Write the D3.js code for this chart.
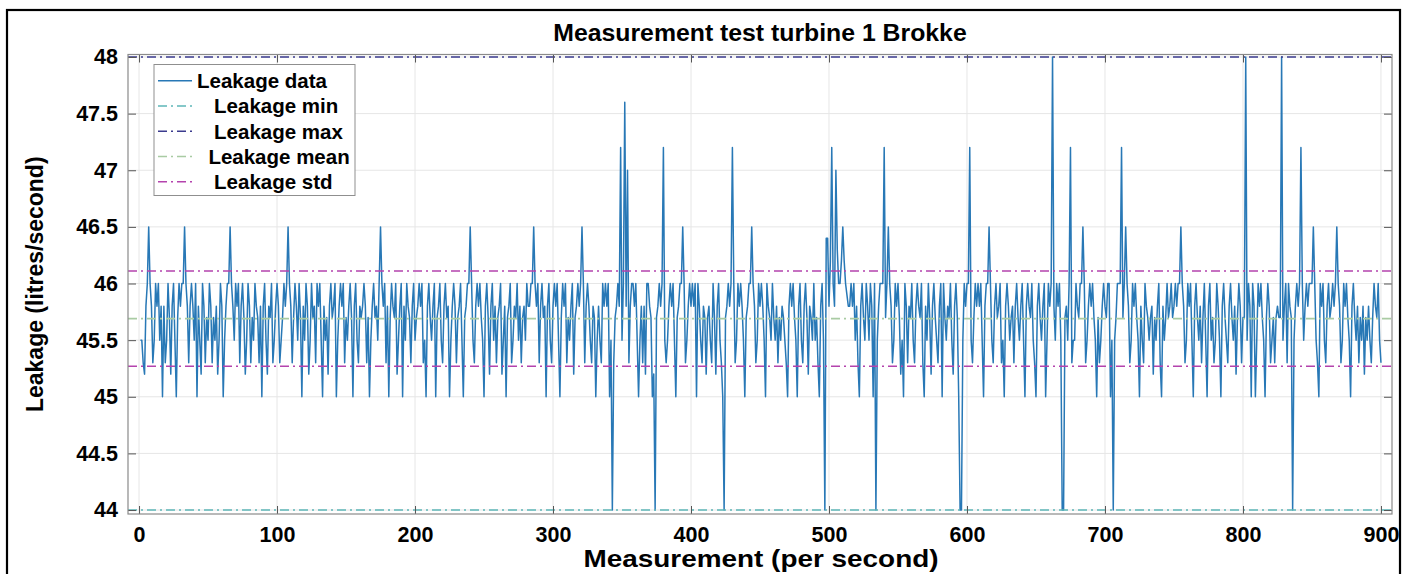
<!DOCTYPE html>
<html>
<head>
<meta charset="utf-8">
<script src="https://cdn.jsdelivr.net/npm/d3@7"></script>
<style>
  html, body { margin: 0; padding: 0; background: #fff; }
  svg text { font-family: "Liberation Sans", Arial, Helvetica, sans-serif; font-weight: bold; fill: #000; }
</style>
</head>
<body>
<svg id="chart" width="1402" height="574"></svg>
<script>
// Leakage readings, one per second (measurement 1..900)
const leakage = [
  45.5,45.5,45.3,45.2,45.8,46,46.5,46,45.8,45.3,45.5,46,45.8,46,45.5,45.8,45,45.8,45.3,45.5,46,45.7,45.2,45.8,46,
  45.5,45,45.7,46,45.8,46,46,46.5,46,45.8,45.3,45.8,46,45.8,45.5,46,45,45.8,45.5,45.2,46,45.8,45.3,45.7,45.5,
  46,45.8,45.3,45.7,45.5,45.8,45.2,45.5,46,45.8,45,45.5,45.8,46,46,46.5,46,45.8,45.5,46,45.8,46,45.3,45.8,46,
  45.7,45.2,45.5,46,45.8,45.3,45.7,45.5,46,45.8,45.7,45.3,45.8,45,45.8,46,45.5,45.2,45.8,45.7,46,45.3,45.5,45.8,46,
  45.8,45.3,45.5,45.7,46,45.8,46,46.5,46,45.8,45.3,45.7,46,45.8,45.5,46,45.7,45,45.8,45.5,46,45.8,45.2,45.5,46,
  45.7,45.8,45.3,46,45.8,46,45.5,45,45.8,45.5,45.7,45.2,45.8,46,45.7,45.8,46,45,45.5,45.8,46,45.8,46,45.3,45.7,
  45.5,45.8,46,45.7,45,45.8,46,45.5,45.3,45.8,45.7,45.8,46,45.8,45.3,45.7,45,45.5,45.8,46,45.7,45.8,45.5,46,46.5,
  46,45.8,46,45.3,45.8,45,45.7,46,45.8,45.7,46,45.2,45.5,45.8,46,45,45.8,45.5,46,45.8,45.7,45.3,45.8,46,45.5,
  45.7,45.8,46,45.8,46,45.3,45.5,45,45.8,46,45.7,45.5,45.8,46,45,45.7,45.8,46,45.5,45.3,45.8,46,45.7,45.8,45,
  45.5,45.8,46,45.8,45.3,45.7,45.8,46,45.5,45,45.7,45.8,46,46,46.5,46,45.5,45.3,45.8,46,45.8,46,45.7,45.5,45,
  45.8,46,45.7,45.2,45.8,46,45.5,45.8,45.3,45.7,45.8,46,45.2,45.5,45.8,45,45.7,45.8,46,45.3,45.5,45.8,45.7,46,45.5,
  45.8,45.3,45.7,45.8,45.5,46,45.8,45.8,46,46,46.5,46,45.8,46,45.3,45.8,46,45.7,45.8,45,45.8,46,45.5,45.3,45.8,
  46,45.8,46,45.5,45,45.7,46,45.8,46,45.3,45.7,45.5,45.8,46,45.2,45.7,45.8,46,45.8,46,46.5,46,45.3,45.8,46,
  45.8,45.5,45.3,45.8,45.7,45,45.5,45.8,45.5,45.3,46,45.8,46,45.8,46,45,45.5,44,45.3,45.7,45.8,46,45.8,47.2,45.5,
  46,47.6,45.8,47,45.3,45.8,46,46,45.8,46,45.5,45,45.5,45.8,45.3,45.8,45.2,46,46,45.8,45.7,45,45.2,44,45.7,
  45.8,46,45.8,46,47.2,45.5,45.3,45.5,45.8,46,45.8,46,45.5,45,45.7,45.8,46,46,46.5,46,45.3,45.5,45.8,46,45.8,
  46,45.8,46,45,46,45.8,45.5,45.3,45.8,45.7,45.2,45.7,45.8,45.5,45.3,46,45.7,45.2,45.8,46,45.5,45.3,45,44,45.7,
  45.8,46,45.8,46,47.2,46,45.3,45.5,46,45.8,46,45.8,45.5,45,45.7,45.8,46,46,46.5,46,45.8,45.3,45.5,46,45.8,
  46,45.8,45.5,45,46,45.8,45.7,45.5,46,45.7,45.5,45.8,45.3,45.7,45.5,45.8,45.7,45.5,45.3,45,45.8,46,45.8,46,45.7,
  45.5,45,45.8,46,45.5,45.3,45.8,46,45.7,45.2,45.8,45.7,45.5,46,45.5,45.7,45.3,45,45.8,46,45.5,44,46.4,46.4,45.8,
  46.2,47.2,46,45.8,47,46.3,46,46,46.2,46.5,46.2,46,45.9,45.8,45.8,46,45.8,46,45.5,45.8,45.3,45,45.8,46,45.7,
  45.5,46,45.8,45.5,46,45.8,45,46,44,45.5,45.8,46,46,46,47.2,45.7,46,46.5,46,45.8,45.3,45.5,46,45.8,46,
  45.7,45.2,45.5,45,46,45.8,45.3,45.8,45.7,46,45.5,45.3,45.8,46,45.8,45.7,46,45.3,45,45.8,45.5,46,45.7,45.2,45.8,
  46,45.7,45.5,45.3,45.8,46,45,46,45.7,45.5,45.8,45.7,46,45.5,45.2,45.8,46,45.7,45,44,44,45.5,46,45.8,46,
  46,47.2,45.5,45.3,45.7,46,45.8,46,45.8,46,45.5,45,45.8,46,46,46.5,46,45.5,45.3,45.8,46,45.7,45.8,46,45.3,
  45.5,45,45.8,46,45.8,45.5,45.7,45.8,45.3,45.8,46,45.7,45.5,45.8,46,45.5,45,45.8,46,45.8,45.7,46,45.5,45.3,45,
  45.8,46,45.7,45.5,45.8,46,45,45.5,46,45.8,46,48,45.8,45.5,46,45.8,46,45.5,44,44,45.7,45.8,45.5,46,47.2,
  45.3,45.5,45.5,46,45.8,45.7,46,46,46.5,46,45.3,45.5,45.8,46,45.8,46,45.7,45.5,45,45.7,45.3,45.5,45.8,46,45.8,
  45.7,46,46,45,45.5,44,45.5,45.7,46,46,46,47.2,45.7,46,46.5,46,45.8,45.3,45.5,46,45.8,46,45.7,45.5,45,
  45.8,45.5,45.3,46,45.8,45.7,45.5,45.7,45.8,45.2,45.7,45.5,45.8,46,45.3,45,45.8,45.5,45.7,46,45.7,45.8,46,45.7,45.8,
  46,45.8,46,46,46.5,46,45.8,45.3,45.5,46,45.8,46,45.5,45,45.8,46,45.7,45.5,45.8,45.3,45.7,46,45.5,45,45.8,
  46,45.5,45.7,45.3,45.5,46,45.8,45.5,45,45.8,46,45.7,45.5,45.3,45.8,46,45.7,45.5,45.8,45.2,45.7,46,45.8,45.3,45.7,
  45.7,48,45.5,46,45.8,45,46,45.8,45,45.5,46,45.8,46,45.7,45.5,45,45.7,46,45.8,45.3,45.5,45.7,45.3,45.7,45.8,
  45.7,45.7,48,45.5,45.8,46,45.3,46,45.8,45.7,44,45.5,45.8,46,45.8,46,47.2,46,45.5,45.8,46,45.8,46,46,46,
  46.5,46,45.5,45.3,45,46,45.8,46,45.5,45.3,45.8,46,45.7,45.8,46,45.8,46,46.5,46,45.8,45.3,45.5,46,45.8,46,
  45.7,45.5,45,45.8,46,45.7,45.5,45.8,45.3,45.7,45.5,45.8,45.2,45.7,45.5,45.8,45.5,45.3,45.7,46,45.8,45.7,46,45.5,45.3
];

// Summary statistics of the run
const leakMin = 44;
const leakMax = 48;
const leakMean = 45.69;
const leakStd = 0.42;

const xTicks = [0, 100, 200, 300, 400, 500, 600, 700, 800, 900];
const yTicks = [44, 44.5, 45, 45.5, 46, 46.5, 47, 47.5, 48];
const legendLabels = ["Leakage data", "   Leakage min", "   Leakage max", "  Leakage mean", "   Leakage std"];

const titleText = "Measurement test turbine 1 Brokke";
const xLabelText = "Measurement (per second)";
const yLabelText = "Leakage (litres/second)";

// ---- layout ----
const W = 1402, H = 574;
const plot = { left: 128, right: 1392, top: 54.5, bottom: 514 };

const colors = {
  data: "#2878b6",
  min: "#5db6b8",
  max: "#3b3b8e",
  mean: "#a9cba3",
  std: "#b443ad",
  grid: "#e6e6e6",
  axis: "#8a8a8a"
};
const dashDot = "9,4,2,4";

const svg = d3.select("#chart");
svg.append("rect").attr("width", W).attr("height", H).attr("fill", "#fff");

// outer frame of the figure
svg.append("rect")
  .attr("x", 7).attr("y", 10).attr("width", 1393).attr("height", 600)
  .attr("fill", "none").attr("stroke", "#000").attr("stroke-width", 2.2);

const x = d3.scaleLinear().domain([-8, 908]).range([plot.left, plot.right]);
const y = d3.scaleLinear().domain([43.965, 48.022]).range([plot.bottom, plot.top]);

// grid
const grid = svg.append("g");
grid.selectAll("line.gx").data(xTicks).join("line")
  .attr("x1", d => x(d)).attr("x2", d => x(d))
  .attr("y1", plot.top).attr("y2", plot.bottom)
  .attr("stroke", colors.grid).attr("stroke-width", 1);
grid.selectAll("line.gy").data(yTicks).join("line")
  .attr("x1", plot.left).attr("x2", plot.right)
  .attr("y1", d => y(d)).attr("y2", d => y(d))
  .attr("stroke", colors.grid).attr("stroke-width", 1);

// reference lines: min, max, mean, mean ± std
const refLines = [
  { v: leakMin, c: colors.min },
  { v: leakMax, c: colors.max },
  { v: leakMean, c: colors.mean },
  { v: leakMean + leakStd, c: colors.std },
  { v: leakMean - leakStd, c: colors.std }
];

// data line
const line = d3.line().x((d, i) => x(i + 1)).y(d => y(d));
svg.append("path")
  .datum(leakage)
  .attr("d", line)
  .attr("fill", "none")
  .attr("stroke", colors.data)
  .attr("stroke-width", 1.5)
  .attr("stroke-linejoin", "round");

svg.append("g").selectAll("line").data(refLines).join("line")
  .attr("x1", plot.left).attr("x2", plot.right)
  .attr("y1", d => y(d.v)).attr("y2", d => y(d.v))
  .attr("stroke", d => d.c)
  .attr("stroke-width", 1.6)
  .attr("stroke-dasharray", dashDot);

// axes
const tickLen = 8;
function styleAxis(g) {
  g.select(".domain").remove();
  g.selectAll(".tick line").attr("stroke", "#555").attr("stroke-width", 1);
}
svg.append("g").attr("transform", `translate(0,${plot.bottom})`)
  .call(d3.axisBottom(x).tickValues(xTicks).tickSizeInner(-tickLen).tickSizeOuter(0).tickPadding(13).tickFormat(d3.format("d")))
  .call(styleAxis)
  .call(g => g.selectAll("text").attr("font-size", 21.5).attr("fill", "#000"));
svg.append("g").attr("transform", `translate(0,${plot.top})`)
  .call(d3.axisTop(x).tickValues(xTicks).tickSizeInner(-tickLen).tickSizeOuter(0).tickFormat(""))
  .call(styleAxis);
svg.append("g").attr("transform", `translate(${plot.left},0)`)
  .call(d3.axisLeft(y).tickValues(yTicks).tickSizeInner(-tickLen).tickSizeOuter(0).tickPadding(10).tickFormat(d3.format("~g")))
  .call(styleAxis)
  .call(g => g.selectAll("text").attr("font-size", 21.5).attr("fill", "#000"));
svg.append("g").attr("transform", `translate(${plot.right},0)`)
  .call(d3.axisRight(y).tickValues(yTicks).tickSizeInner(-tickLen).tickSizeOuter(0).tickFormat(""))
  .call(styleAxis);

svg.selectAll(".tick text").style("font-family", '"Liberation Sans", Arial, sans-serif').style("font-weight", "bold");

// axes box
svg.append("rect")
  .attr("x", plot.left).attr("y", plot.top)
  .attr("width", plot.right - plot.left).attr("height", plot.bottom - plot.top)
  .attr("fill", "none").attr("stroke", colors.axis).attr("stroke-width", 1.2);

// title and axis labels
svg.append("text").attr("x", (plot.left + plot.right) / 2).attr("y", 41)
  .attr("text-anchor", "middle").attr("font-size", 24.8).text(titleText);
svg.append("text").attr("x", (plot.left + plot.right) / 2 + 1).attr("y", 567)
  .attr("text-anchor", "middle").attr("font-size", 24.5)
  .attr("textLength", 355).attr("lengthAdjust", "spacingAndGlyphs")
  .text(xLabelText);
svg.append("text")
  .attr("transform", `translate(43,${(plot.top + plot.bottom) / 2}) rotate(-90)`)
  .attr("text-anchor", "middle").attr("font-size", 23).text(yLabelText);

// legend
const legend = svg.append("g");
legend.append("rect")
  .attr("x", 154).attr("y", 64.5).attr("width", 201).attr("height", 131)
  .attr("fill", "#fff").attr("stroke", "#8f8f8f").attr("stroke-width", 1);
const legendStyles = [
  { c: colors.data, dash: null },
  { c: colors.min, dash: dashDot },
  { c: colors.max, dash: dashDot },
  { c: colors.mean, dash: dashDot },
  { c: colors.std, dash: dashDot }
];
const rowY = d3.scaleLinear().domain([0, 4]).range([80.7, 181.7]);
legendLabels.forEach((label, i) => {
  legend.append("line")
    .attr("x1", 158).attr("x2", 192)
    .attr("y1", rowY(i)).attr("y2", rowY(i))
    .attr("stroke", legendStyles[i].c).attr("stroke-width", 1.4)
    .attr("stroke-dasharray", legendStyles[i].dash);
  legend.append("text")
    .attr("x", 197).attr("y", rowY(i)).attr("dy", "0.36em")
    .attr("font-size", 20.5)
    .style("white-space", "pre")
    .text(label);
});
</script>
</body>
</html>
